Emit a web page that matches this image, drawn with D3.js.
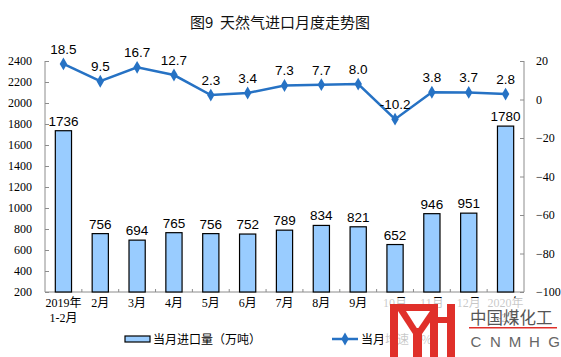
<!DOCTYPE html>
<html><head><meta charset="utf-8">
<script src="https://cdn.jsdelivr.net/npm/d3@7"></script>
<style>body{margin:0;background:#fff}svg{display:block}</style>
</head><body>
<script>
const categories = [["2019年","1-2月"],["2月"],["3月"],["4月"],["5月"],["6月"],["7月"],["8月"],["9月"],["10月"],["11月"],["12月"],["2020年","1-2月"]];
const imports = [1736,756,694,765,756,752,789,834,821,652,946,951,1780];
const growth = [18.5,9.5,16.7,12.7,2.3,3.4,7.3,7.7,8.0,-10.2,3.8,3.7,2.8];
const leftTicks = [200,400,600,800,1000,1200,1400,1600,1800,2000,2200,2400];
const rightTicks = [-100,-80,-60,-40,-20,0,20];
const title = "图9\u00a0\u00a0天然气进口月度走势图";
const legendLabels = ["当月进口量（万吨）","当月增速（%）"];

const W=561,H=357;
const L=45,R=524,T=61,B=292;
const svg=d3.select("body").append("svg").attr("width",W).attr("height",H);
const serif="'Liberation Serif','Noto Sans CJK SC',serif";
const sans="'Liberation Sans',Arial,sans-serif";
const cjk="'Noto Sans CJK SC',sans-serif";
const blue="#2672C4";

const x=d3.scaleBand().domain(d3.range(categories.length)).range([L,R]).paddingInner(0.56).paddingOuter(0.28);
const yL=d3.scaleLinear().domain([200,2400]).range([B,T]);
const yR=d3.scaleLinear().domain([-100,20]).range([B,T]);

svg.append("text").attr("x",280).attr("y",28).attr("text-anchor","middle")
  .attr("font-family",cjk).attr("font-size",15).attr("fill","#111").text(title);

// axes
const axisColor="#8c8c8c";
const gl=svg.append("g").attr("transform",`translate(${L},0)`)
  .call(d3.axisLeft(yL).tickValues(leftTicks).tickSize(-4).tickPadding(13).tickFormat(d3.format("d")));
const gr=svg.append("g").attr("transform",`translate(${R},0)`)
  .call(d3.axisRight(yR).tickValues(rightTicks).tickSize(-4).tickPadding(12).tickFormat(d3.format("d")));
[gl,gr].forEach(g=>{
  g.select(".domain").remove();
  g.selectAll(".tick line").attr("stroke",axisColor);
  g.selectAll(".tick text").attr("font-family",serif).attr("font-size",12).attr("fill","#000");
});
svg.append("line").attr("x1",L).attr("x2",L).attr("y1",T).attr("y2",B).attr("stroke",axisColor);
svg.append("line").attr("x1",R).attr("x2",R).attr("y1",T).attr("y2",B).attr("stroke",axisColor);
svg.append("line").attr("x1",L).attr("x2",R).attr("y1",B).attr("y2",B).attr("stroke",axisColor);
// x ticks at category boundaries
svg.append("g").selectAll("line").data(d3.range(1,categories.length)).join("line")
  .attr("x1",i=>L+i*(R-L)/categories.length).attr("x2",i=>L+i*(R-L)/categories.length)
  .attr("y1",B).attr("y2",B-3).attr("stroke",axisColor);

// x labels
const xl=svg.append("g");
categories.forEach((c,i)=>{
  const cx=x(i)+x.bandwidth()/2;
  const t=xl.append("text").attr("x",cx).attr("y",307).attr("text-anchor","middle")
    .attr("font-family",serif).attr("font-size",12).attr("fill","#000");
  c.forEach((s,j)=>t.append("tspan").attr("x",cx).attr("dy",j?15:0).text(s));
});

// bars
svg.append("g").selectAll("rect").data(imports).join("rect")
  .attr("x",(d,i)=>x(i)).attr("width",x.bandwidth())
  .attr("y",d=>yL(d)).attr("height",d=>B-yL(d))
  .attr("fill","#99CCFF").attr("stroke","#000").attr("stroke-width",1.2);
svg.append("g").selectAll("text").data(imports).join("text")
  .attr("x",(d,i)=>x(i)+x.bandwidth()/2).attr("y",d=>yL(d)-5).attr("text-anchor","middle")
  .attr("font-family",sans).attr("font-size",13.5).attr("fill","#000").text(d=>d);

// line
const line=d3.line().x((d,i)=>x(i)+x.bandwidth()/2).y(d=>yR(d));
svg.append("path").datum(growth).attr("d",line).attr("fill","none").attr("stroke",blue).attr("stroke-width",2.5);
const diamond=d3.symbol().type(d3.symbolDiamond).size(48);
svg.append("g").selectAll("path").data(growth).join("path")
  .attr("transform",(d,i)=>`translate(${x(i)+x.bandwidth()/2},${yR(d)})`).attr("d",diamond).attr("fill",blue);
svg.append("g").selectAll("text").data(growth).join("text")
  .attr("x",(d,i)=>x(i)+x.bandwidth()/2).attr("y",d=>yR(d)-10).attr("text-anchor","middle")
  .attr("font-family",sans).attr("font-size",13.5).attr("fill","#000").text(d=>d.toFixed(1));

// legend
svg.append("rect").attr("x",125).attr("y",336).attr("width",25).attr("height",6)
  .attr("fill","#99CCFF").attr("stroke","#000").attr("stroke-width",1.2);
svg.append("text").attr("x",153).attr("y",343.5).attr("font-family",cjk).attr("font-size",12).attr("fill","#000").text(legendLabels[0]);
svg.append("line").attr("x1",332).attr("x2",358).attr("y1",339).attr("y2",339).attr("stroke",blue).attr("stroke-width",2.5);
svg.append("path").attr("transform","translate(345,339)").attr("d",diamond).attr("fill",blue);
svg.append("text").attr("x",361).attr("y",343.5).attr("font-family",cjk).attr("font-size",12).attr("fill","#000").text(legendLabels[1]);

// watermark overlay
const wm=svg.append("g");
wm.append("rect").attr("x",383).attr("y",298).attr("width",178).attr("height",59).attr("fill","#fff").attr("opacity",0.78);
const red="#E0302A";
wm.append("rect").attr("x",390).attr("y",304).attr("width",8).attr("height",53).attr("fill",red);
wm.append("rect").attr("x",390).attr("y",304).attr("width",48).attr("height",7).attr("fill",red);
wm.append("polygon").attr("points","398,311 406,311 418,330 413,334").attr("fill",red);
wm.append("polygon").attr("points","430,311 438,311 422,334 417,330").attr("fill",red);
wm.append("rect").attr("x",413).attr("y",328).attr("width",9).attr("height",29).attr("fill",red);
wm.append("rect").attr("x",430).attr("y",304).attr("width",8).attr("height",53).attr("fill",red);
wm.append("rect").attr("x",447).attr("y",304).attr("width",8).attr("height",53).attr("fill",red);
wm.append("rect").attr("x",430).attr("y",317).attr("width",25).attr("height",6).attr("fill",red);
wm.append("text").attr("x",470).attr("y",324).attr("font-family",cjk).attr("font-size",16.5).attr("fill","#555").text("中国煤化工");
wm.append("rect").attr("x",469).attr("y",327).attr("width",88).attr("height",1.5).attr("fill",red);
["C","N","M","H","G"].forEach((ch,i)=>{
  wm.append("text").attr("x",476+i*19.5).attr("y",347).attr("text-anchor","middle")
    .attr("font-family",sans).attr("font-size",15).attr("fill","#666").text(ch);
});
</script>
</body></html>
